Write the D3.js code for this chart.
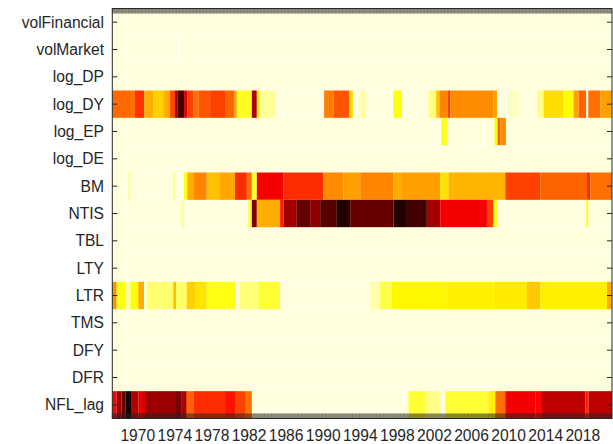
<!DOCTYPE html>
<html>
<head>
<meta charset="utf-8">
<script src="https://cdn.jsdelivr.net/npm/d3@7"></script>
<style>
  html, body { margin: 0; padding: 0; background: #ffffff; }
  svg { display: block; }
  text { font-family: "Liberation Sans", Arial, sans-serif; fill: #262626; }
</style>
</head>
<body>
<svg id="chart" width="613" height="444"></svg>
<script>
// Predictor names, top to bottom
const predictors = ["volFinancial", "volMarket", "log_DP", "log_DY", "log_EP", "log_DE",
                    "BM", "NTIS", "TBL", "LTY", "LTR", "TMS", "DFY", "DFR", "NFL_lag"];

// Sample span (decimal years) and labelled years on the time axis
const sampleStart = 1967.25;
const sampleEnd = 2021.15;
const yearTicks = [1970, 1974, 1978, 1982, 1986, 1990, 1994, 1998, 2002, 2006, 2010, 2014, 2018];

// Level used wherever a predictor has no segment listed
const baseLevel = 0.03;

// Segments per predictor: [from, to, level], level 0 (white) .. 1 (black)
const volMarket = [[1974.31, 1974.52, 0]];

const log_DY = [
  [1967.25, 1969.16, 0.47], [1969.16, 1969.70, 0.46], [1969.70, 1970.70, 0.55],
  [1970.70, 1971.68, 0.37], [1971.68, 1972.75, 0.32], [1972.75, 1973.48, 0.37],
  [1973.48, 1974.02, 0.52], [1974.02, 1974.31, 0.76], [1974.31, 1974.99, 0.90],
  [1974.99, 1975.34, 0.67], [1975.34, 1975.99, 0.53], [1975.99, 1976.53, 0.46],
  [1976.53, 1977.80, 0.50], [1977.80, 1979.41, 0.53], [1979.41, 1980.39, 0.48],
  [1980.39, 1980.68, 0.39], [1980.68, 1982.30, 0.22], [1982.30, 1982.84, 0.74],
  [1982.84, 1983.08, 0.27], [1983.08, 1984.89, 0.10],
  [1990.10, 1991.10, 0.44], [1991.10, 1992.83, 0.50], [1992.83, 1993.20, 0.30],
  [1993.99, 1994.63, 0.09], [1997.58, 1998.49, 0.23],
  [2001.36, 2002.19, 0.13], [2002.19, 2002.54, 0.34], [2002.54, 2003.41, 0.43],
  [2003.41, 2003.70, 0.53], [2003.70, 2008.37, 0.42], [2008.37, 2008.74, 0.39],
  [2009.99, 2011.07, 0.06], [2013.06, 2013.77, 0.12], [2013.77, 2015.93, 0.30],
  [2015.93, 2017.01, 0.25], [2017.01, 2017.55, 0.39], [2017.55, 2018.38, 0.48],
  [2018.38, 2018.59, 0.00], [2018.59, 2019.89, 0.46], [2019.89, 2021.15, 0.39]
];

const log_EP = [
  [2002.73, 2003.41, 0.22], [2008.48, 2008.80, 0.25],
  [2008.80, 2009.10, 0.48], [2009.10, 2009.71, 0.42]
];

const BM = [
  [1968.98, 1969.24, 0.10], [1973.77, 1974.02, 0.10],
  [1974.99, 1975.34, 0.22], [1975.34, 1975.99, 0.37], [1975.99, 1977.44, 0.43],
  [1977.44, 1978.87, 0.34], [1978.87, 1980.49, 0.38], [1980.49, 1981.76, 0.56],
  [1981.76, 1982.30, 0.46], [1982.30, 1982.84, 0.20], [1982.84, 1985.71, 0.64],
  [1985.71, 1990.02, 0.56], [1990.02, 1992.18, 0.42], [1992.18, 1993.99, 0.39],
  [1993.99, 1997.58, 0.43], [1997.58, 1998.49, 0.37], [1998.49, 2002.62, 0.39],
  [2002.62, 2003.52, 0.29], [2003.52, 2009.64, 0.36], [2009.64, 2013.41, 0.53],
  [2013.41, 2018.45, 0.48], [2018.45, 2018.81, 0.56], [2018.81, 2021.15, 0.46]
];

const NTIS = [
  [1974.74, 1974.99, 0.10], [1981.93, 1982.30, 0.20], [1982.30, 1982.84, 0.81],
  [1982.84, 1985.35, 0.37], [1985.35, 1985.71, 0.58], [1985.71, 1987.15, 0.76],
  [1987.15, 1988.59, 0.85], [1988.59, 1989.67, 0.79], [1989.67, 1991.47, 0.87],
  [1991.47, 1992.91, 0.95], [1992.91, 1997.58, 0.85], [1997.58, 1999.03, 0.95],
  [1999.03, 2001.18, 0.90], [2001.18, 2002.62, 0.76], [2002.62, 2007.66, 0.64],
  [2007.66, 2008.37, 0.53], [2008.37, 2008.74, 0.22], [2018.38, 2018.59, 0.22]
];

const LTR = [
  [1967.25, 1967.72, 0.41], [1967.72, 1968.62, 0.23], [1968.62, 1969.24, 0.10],
  [1969.24, 1970.06, 0.25], [1970.06, 1970.67, 0.37], [1970.96, 1973.83, 0.14],
  [1973.83, 1974.13, 0.34], [1974.13, 1975.28, 0.15], [1975.28, 1976.18, 0.32],
  [1976.18, 1977.44, 0.29], [1977.44, 1980.49, 0.23], [1980.96, 1983.01, 0.13],
  [1983.01, 1985.35, 0.20], [1995.06, 1996.14, 0.08], [1996.14, 1997.41, 0.18],
  [1997.41, 2003.34, 0.26], [2003.34, 2008.37, 0.27], [2008.37, 2011.98, 0.28],
  [2011.98, 2013.41, 0.33], [2013.41, 2020.61, 0.27], [2020.61, 2021.15, 0.37]
];

const NFL_lag = [
  [1967.25, 1967.72, 0.63], [1967.72, 1968.26, 0.76], [1968.26, 1968.70, 0.85],
  [1968.70, 1969.27, 0.97], [1969.27, 1970.06, 0.74], [1970.06, 1970.78, 0.67],
  [1970.78, 1974.02, 0.77], [1974.02, 1974.67, 0.83], [1974.67, 1975.28, 0.74],
  [1975.28, 1975.99, 0.48], [1975.99, 1979.41, 0.56], [1979.41, 1980.49, 0.60],
  [1980.49, 1981.57, 0.53], [1981.57, 1982.30, 0.46],
  [1999.20, 2001.00, 0.20], [2001.00, 2002.62, 0.12], [2003.16, 2007.83, 0.20],
  [2007.83, 2008.56, 0.27], [2008.56, 2009.64, 0.46], [2009.64, 2012.87, 0.64],
  [2012.87, 2013.60, 0.62], [2013.60, 2018.27, 0.72], [2018.27, 2018.63, 0.58],
  [2018.63, 2021.15, 0.72]
];

const segmentsByPredictor = { volMarket, log_DY, log_EP, BM, NTIS, LTR, NFL_lag };

// ---- layout ----
const svg = d3.select("#chart");
const plot = { left: 112.3, right: 612, top: 8.5, bottom: 418.5 };
const axisColor = "#262626";

const x = d3.scaleLinear().domain([sampleStart, sampleEnd]).range([plot.left, plot.right]);
const y = d3.scaleBand().domain(predictors).range([plot.top, plot.bottom]).padding(0);

// reversed "hot" colour map: white -> yellow -> red -> black
const color = d3.scaleLinear()
  .domain([0, 0.25, 0.625, 1])
  .range(["#ffffff", "#ffff00", "#ff0000", "#000000"])
  .interpolate(d3.interpolateRgb)
  .clamp(true);

// background level for every row
const rowsG = svg.append("g");
rowsG.selectAll("rect.base")
  .data(predictors)
  .join("rect")
  .attr("class", "base")
  .attr("x", x(sampleStart))
  .attr("width", x(sampleEnd) - x(sampleStart))
  .attr("y", d => y(d))
  .attr("height", y.bandwidth())
  .attr("fill", color(baseLevel));

// segments
const cells = predictors.flatMap(p =>
  (segmentsByPredictor[p] || []).map(([a, b, v]) => ({ p, a, b, v })));

rowsG.selectAll("rect.seg")
  .data(cells)
  .join("rect")
  .attr("class", "seg")
  .attr("x", d => x(d.a))
  .attr("width", d => Math.max(0, x(d.b) - x(d.a)))
  .attr("y", d => y(d.p))
  .attr("height", y.bandwidth())
  .attr("fill", d => color(d.v));

// ---- axes ----
const monthTicks = d3.range(Math.ceil(sampleStart * 12), Math.floor(sampleEnd * 12) + 1).map(m => m / 12);

const axisG = svg.append("g").attr("stroke", axisColor);

// monthly tick marks, pointing inward, on top and bottom
axisG.selectAll("line.mt")
  .data(monthTicks)
  .join("line")
  .attr("x1", d => x(d)).attr("x2", d => x(d))
  .attr("y1", plot.top).attr("y2", plot.top + 5)
  .attr("stroke-width", 0.5);
axisG.selectAll("line.mb")
  .data(monthTicks)
  .join("line")
  .attr("x1", d => x(d)).attr("x2", d => x(d))
  .attr("y1", plot.bottom - 5).attr("y2", plot.bottom)
  .attr("stroke-width", 0.5);

// row tick marks on left and right
const rowCenter = p => y(p) + y.bandwidth() / 2;
axisG.selectAll("line.rl")
  .data(predictors)
  .join("line")
  .attr("x1", plot.left).attr("x2", plot.left + 5)
  .attr("y1", rowCenter).attr("y2", rowCenter)
  .attr("stroke-width", 1);
axisG.selectAll("line.rr")
  .data(predictors)
  .join("line")
  .attr("x1", plot.right - 5).attr("x2", plot.right)
  .attr("y1", rowCenter).attr("y2", rowCenter)
  .attr("stroke-width", 1);

// box
axisG.append("rect")
  .attr("x", plot.left).attr("y", plot.top)
  .attr("width", plot.right - plot.left).attr("height", plot.bottom - plot.top)
  .attr("fill", "none").attr("stroke-width", 1);

// labels
svg.append("g").selectAll("text")
  .data(predictors)
  .join("text")
  .attr("x", 104)
  .attr("y", rowCenter)
  .attr("dy", "0.35em")
  .attr("text-anchor", "end")
  .style("font-size", "15.6px")
  .text(d => d);

svg.append("g").selectAll("text")
  .data(yearTicks)
  .join("text")
  .attr("x", d => x(d))
  .attr("y", 441)
  .attr("text-anchor", "middle")
  .style("font-size", "15.6px")
  .text(d => d);
</script>
</body>
</html>
